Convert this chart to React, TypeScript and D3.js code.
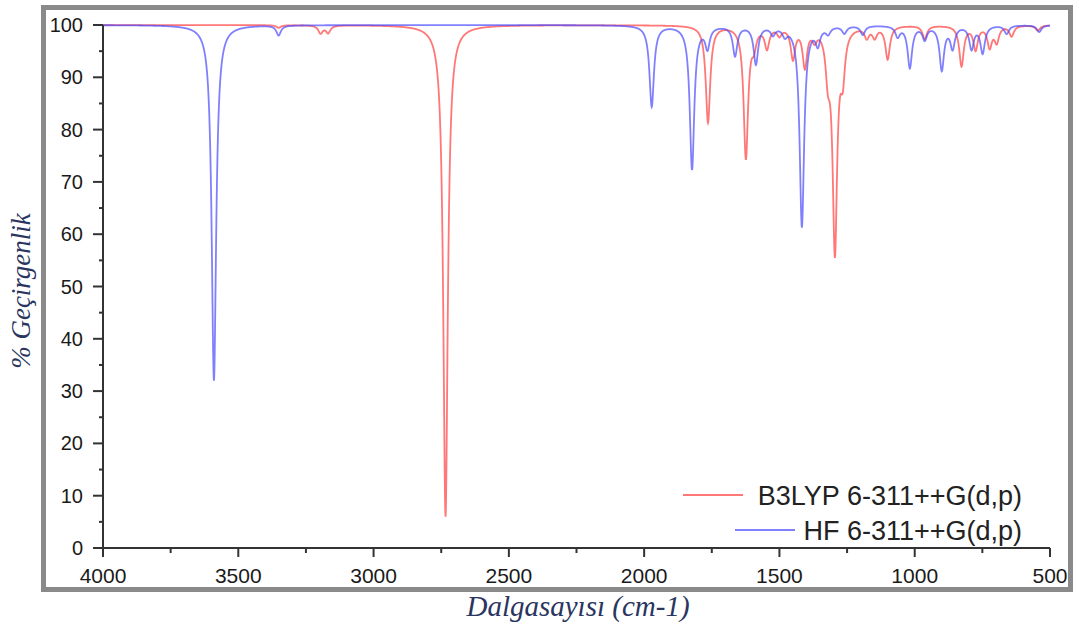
import React from "react";
import * as d3 from "d3";

// Peak positions (cm-1) and transmittance minima (%)
const redPeakPos = [3351, 3196, 3168, 2734, 1764, 1624, 1594, 1546, 1500, 1450, 1406, 1370, 1321, 1295, 1266, 1177, 1148, 1100, 963, 827, 775, 723, 697, 642, 545];
const redPeakMin = [99.5, 98.5, 98.6, 6, 81.5, 74.8, 97, 96, 98.5, 94, 92.5, 98, 92.5, 57.5, 92, 98, 98, 93.7, 97.5, 92.3, 95.5, 96, 97, 98, 99];

const bluePeakPos = [3590, 3351, 1972, 1823, 1766, 1664, 1587, 1524, 1480, 1417, 1358, 1320, 1260, 1192, 1063, 1018, 963, 900, 860, 790, 749, 660, 540];
const bluePeakMin = [32, 98.1, 84.5, 72.5, 96, 94.3, 92.7, 98.5, 98.5, 61.5, 96.8, 98.7, 98.6, 98.3, 98, 92, 97.5, 91.6, 95.8, 95.6, 94.8, 98.4, 98.7];

const xTicks = [4000, 3500, 3000, 2500, 2000, 1500, 1000, 500];
const xMinorTicks = [3750, 3250, 2750, 2250, 1750, 1250, 750];
const yTicks = [0, 10, 20, 30, 40, 50, 60, 70, 80, 90, 100];
const yMinorTicks = [5, 15, 25, 35, 45, 55, 65, 75, 85, 95];

const seriesNames = ["B3LYP 6-311++G(d,p)", "HF 6-311++G(d,p)"];
const HWHM = 10; // Lorentzian half width (cm-1)

function spectrum(pos: number[], mins: number[]) {
  const pts: [number, number][] = [];
  for (let w = 4000; w >= 500; w -= 1) {
    let dep = 0;
    for (let i = 0; i < pos.length; i++) {
      const d = (w - pos[i]) / HWHM;
      dep += (100 - mins[i]) / (1 + d * d);
    }
    pts.push([w, Math.max(0, 100 - dep)]);
  }
  return pts;
}

export default function App() {
  const W = 1079, H = 629;
  const x = d3.scaleLinear().domain([4000, 500]).range([103, 1050]);
  const y = d3.scaleLinear().domain([0, 100]).range([548, 25]);
  const line = d3.line<[number, number]>().x(d => x(d[0])).y(d => y(d[1]));
  const red = spectrum(redPeakPos, redPeakMin);
  const blue = spectrum(bluePeakPos, bluePeakMin);
  const axisColor = "#333";
  const font = "'Liberation Sans', Arial, sans-serif";
  const serif = "'Liberation Serif', 'Times New Roman', serif";

  return (
    <svg width={W} height={H} style={{ position: "absolute", left: 0, top: 0, background: "#fff" }}>
      <rect x={0} y={0} width={W} height={H} fill="#fff" />
      <rect x={43.5} y={7.5} width={1027} height={582} fill="none" stroke="#8a8a8a" strokeWidth={5} />

      {/* spectra */}
      <path d={line(red) || ""} fill="none" stroke="#ff4a4a" strokeOpacity={0.75} strokeWidth={1.8} />
      <path d={line(blue) || ""} fill="none" stroke="#4a4aff" strokeOpacity={0.7} strokeWidth={1.8} />

      {/* axes */}
      <line x1={x(4000)} x2={x(500)} y1={y(0)} y2={y(0)} stroke={axisColor} strokeWidth={2} />
      <line x1={x(4000)} x2={x(4000)} y1={y(0)} y2={y(100)} stroke={axisColor} strokeWidth={2} />
      {xTicks.map(t => (
        <g key={"xt" + t}>
          <line x1={x(t)} x2={x(t)} y1={y(0)} y2={y(0) + 9} stroke={axisColor} strokeWidth={2} />
          <text x={x(t)} y={583} textAnchor="middle" fontFamily={font} fontSize={21} fill="#1a1a1a">{t}</text>
        </g>
      ))}
      {xMinorTicks.map(t => (
        <line key={"xm" + t} x1={x(t)} x2={x(t)} y1={y(0)} y2={y(0) + 5} stroke={axisColor} strokeWidth={2} />
      ))}
      {yTicks.map(t => (
        <g key={"yt" + t}>
          <line x1={x(4000) - 10} x2={x(4000)} y1={y(t)} y2={y(t)} stroke={axisColor} strokeWidth={2} />
          <text x={83} y={y(t) + 7} textAnchor="end" fontFamily={font} fontSize={20} fill="#1a1a1a">{t}</text>
        </g>
      ))}
      {yMinorTicks.map(t => (
        <line key={"ym" + t} x1={x(4000) - 4} x2={x(4000)} y1={y(t)} y2={y(t)} stroke={axisColor} strokeWidth={2} />
      ))}

      {/* axis titles */}
      <text x={578} y={616} textAnchor="middle" fontFamily={serif} fontStyle="italic" fontSize={29} fill="#2a3560">Dalgasayısı (cm-1)</text>
      <text transform="translate(30,291) rotate(-90)" textAnchor="middle" fontFamily={serif} fontStyle="italic" fontSize={27} fill="#2a3560">% Geçirgenlik</text>

      {/* legend */}
      <line x1={683} x2={743} y1={495} y2={495} stroke="#ff4a4a" strokeOpacity={0.75} strokeWidth={2} />
      <text x={1022} y={505} textAnchor="end" fontFamily={font} fontSize={27} fill="#222">{seriesNames[0]}</text>
      <line x1={735} x2={795} y1={530} y2={530} stroke="#4a4aff" strokeOpacity={0.7} strokeWidth={2} />
      <text x={1022} y={540} textAnchor="end" fontFamily={font} fontSize={27} fill="#222">{seriesNames[1]}</text>
    </svg>
  );
}
